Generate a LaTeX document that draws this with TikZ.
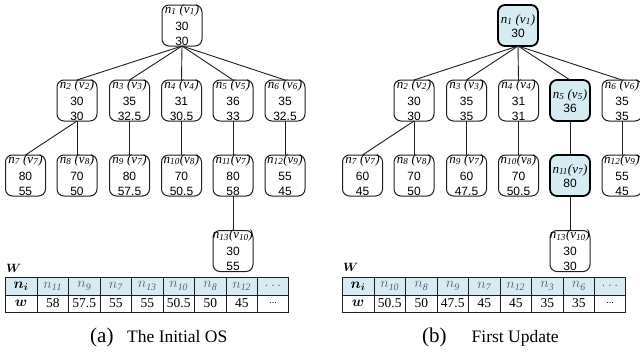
\documentclass[tikz,border=0pt]{standalone}
\usepackage{fontspec}
\usepackage{bm}
\setmainfont{Liberation Serif}
\newfontfamily\numsans{Liberation Sans}
\definecolor{hlblue}{RGB}{214,236,242}
\definecolor{hdrgray}{RGB}{85,95,110}
\definecolor{linegray}{RGB}{30,30,30}
\tikzset{
  osbox/.style={draw=linegray, line width=1pt, rounded corners=7pt,
    minimum width=40pt, minimum height=41pt, inner sep=0pt, outer sep=0pt},
  hlbox/.style={osbox, draw=black, fill=hlblue, line width=1.8pt},
  lbltxt/.style={anchor=base, inner sep=0pt, font=\fontsize{13}{14}\selectfont\itshape},
  numtxt/.style={anchor=base, inner sep=0pt, font=\numsans\fontsize{12}{14}\selectfont},
  edge/.style={draw=linegray, line width=0.9pt},
  cell/.style={draw=linegray, line width=1pt, inner sep=0pt, outer sep=0pt, anchor=center},
  hcell/.style={cell, fill=hlblue, minimum height=18pt, text=hdrgray,
    font=\fontsize{14}{16}\selectfont},
  dcell/.style={cell, minimum height=17pt, font=\fontsize{13.5}{15}\selectfont},
  captag/.style={anchor=base west, inner sep=0pt, font=\fontsize{21}{24}\selectfont},
  captxt/.style={anchor=base west, inner sep=0pt, font=\fontsize{17.5}{20}\selectfont},
  wlbl/.style={anchor=base west, inner sep=0pt, font=\fontsize{12}{14}\selectfont},
}
\newcommand\osnode[6]{% name, x, y, label, a, b
  \node[osbox] (#1) at (#2,#3) {};
  \node[lbltxt] (#1-l) at ([yshift=-8pt]#1.north) {#4};
  \node[numtxt] (#1-a) at ([yshift=-25pt]#1.north) {#5};
  \node[numtxt] (#1-b) at ([yshift=-40pt]#1.north) {#6};
}
\newcommand\oshlnode[5]{% name, x, y, label, a
  \node[hlbox] (#1) at (#2,#3) {};
  \node[lbltxt] (#1-l) at ([yshift=-18pt]#1.north) {#4};
  \node[numtxt] (#1-a) at ([yshift=-32pt]#1.north) {#5};
}
\newcommand\nv[2]{n\textsubscript{#1} (v\textsubscript{#2})}
\newcommand\nvt[2]{n\textsubscript{#1}(v\textsubscript{#2})}
\newcommand\hn[1]{$n_{\mathit{#1}}$}
\begin{document}
\begin{tikzpicture}[x=1pt,y=1pt]
\useasboundingbox (0,0) rectangle (640,-354);
% ---------------- left panel (a) ----------------
\osnode{a1}{182}{-25.5}{\nv{1}{1}}{30}{30}
\osnode{a2}{77}{-100.5}{\nv{2}{2}}{30}{30}
\osnode{a3}{129.5}{-100.5}{\nv{3}{3}}{35}{32.5}
\osnode{a4}{181.5}{-100.5}{\nv{4}{4}}{31}{30.5}
\osnode{a5}{233}{-100.5}{\nv{5}{5}}{36}{33}
\osnode{a6}{285}{-100.5}{\nv{6}{6}}{35}{32.5}
\osnode{a7}{25.5}{-175.5}{\nv{7}{7}}{80}{55}
\osnode{a8}{77}{-175.5}{\nv{8}{8}}{70}{50}
\osnode{a9}{129.5}{-175.5}{\nv{9}{7}}{80}{57.5}
\osnode{a10}{181.5}{-175.5}{\nvt{10}{8}}{70}{50.5}
\osnode{a11}{233}{-175.5}{\nvt{11}{7}}{80}{58}
\osnode{a12}{285}{-175.5}{\nvt{12}{9}}{55}{45}
\osnode{a13}{233}{-251}{\nvt{13}{10}}{30}{55}
\foreach \c in {a2,a3,a4,a5,a6} \draw[edge] (a1.south) -- (\c.north);
\draw[edge] (a2.south) -- (a7.north);
\draw[edge] (a2.south) -- (a8.north);
\draw[edge] (a3.south) -- (a9.north);
\draw[edge] (a4.south) -- (a10.north);
\draw[edge] (a5.south) -- (a11.north);
\draw[edge] (a6.south) -- (a12.north);
\draw[edge] (a11.south) -- (a13.north);
% table (a)
\node[wlbl] (aW) at (6,-272) {$\bm{W}$};
\node[hcell, minimum width=32pt, text=black] (ah0) at (21,-286) {$\bm{n_i}$};
\node[dcell, minimum width=32pt] (ad0) at (21,-303.5) {$\bm{w}$};
\foreach \h/\d [count=\i] in {11/58,9/57.5,7/55,13/55,10/50.5,8/50,12/45}{
  \node[hcell, minimum width=31.5pt] (ah\i) at ({37+31.5*(\i-0.5)},-286) {\hn{\h}};
  \node[dcell, minimum width=31.5pt] (ad\i) at ({37+31.5*(\i-0.5)},-303.5) {\d};
}
\node[hcell, minimum width=31pt] (ah8) at (273,-286) {$\dots$};
\node[dcell, minimum width=31pt, font=\fontsize{10}{12}\selectfont] (ad8) at (273,-303.5) {...};
\node[captag] (acapt) at (90,-342.5) {(a)};
\node[captxt] (acapx) at (127,-342.5) {The Initial OS};
% ---------------- right panel (b) ----------------
\oshlnode{b1}{518}{-25.5}{\nv{1}{1}}{30}
\osnode{b2}{414}{-100.5}{\nv{2}{2}}{30}{30}
\osnode{b3}{466.5}{-100.5}{\nv{3}{3}}{35}{35}
\osnode{b4}{518.5}{-100.5}{\nv{4}{4}}{31}{31}
\oshlnode{b5}{570}{-100.5}{\nv{5}{5}}{36}
\osnode{b6}{622}{-100.5}{\nv{6}{6}}{35}{35}
\osnode{b7}{362.5}{-175.5}{\nv{7}{7}}{60}{45}
\osnode{b8}{414}{-175.5}{\nv{8}{8}}{70}{50}
\osnode{b9}{466.5}{-175.5}{\nv{9}{7}}{60}{47.5}
\osnode{b10}{518.5}{-175.5}{\nvt{10}{8}}{70}{50.5}
\oshlnode{b11}{570}{-175.5}{\nvt{11}{7}}{80}
\osnode{b12}{622}{-175.5}{\nvt{12}{9}}{55}{45}
\osnode{b13}{570}{-251}{\nvt{13}{10}}{30}{30}
\foreach \c in {b2,b3,b4,b5,b6} \draw[edge] (b1.south) -- (\c.north);
\draw[edge] (b2.south) -- (b7.north);
\draw[edge] (b2.south) -- (b8.north);
\draw[edge] (b3.south) -- (b9.north);
\draw[edge] (b4.south) -- (b10.north);
\draw[edge] (b5.south) -- (b11.north);
\draw[edge] (b6.south) -- (b12.north);
\draw[edge] (b11.south) -- (b13.north);
% table (b)
\node[wlbl] (bW) at (343,-271) {$\bm{W}$};
\node[hcell, minimum width=32pt, text=black] (bh0) at (358,-286) {$\bm{n_i}$};
\node[dcell, minimum width=32pt] (bd0) at (358,-303.5) {$\bm{w}$};
\foreach \h/\d [count=\i] in {10/50.5,8/50,9/47.5,7/45,12/45,3/35,6/35}{
  \node[hcell, minimum width=31.5pt] (bh\i) at ({374+31.5*(\i-0.5)},-286) {\hn{\h}};
  \node[dcell, minimum width=31.5pt] (bd\i) at ({374+31.5*(\i-0.5)},-303.5) {\d};
}
\node[hcell, minimum width=31pt] (bh8) at (610,-286) {$\dots$};
\node[dcell, minimum width=31pt, font=\fontsize{10}{12}\selectfont] (bd8) at (610,-303.5) {...};
\node[captag] (bcapt) at (422,-342.5) {(b)};
\node[captxt] (bcapx) at (471.5,-342.5) {First Update};
\end{tikzpicture}
\end{document}
